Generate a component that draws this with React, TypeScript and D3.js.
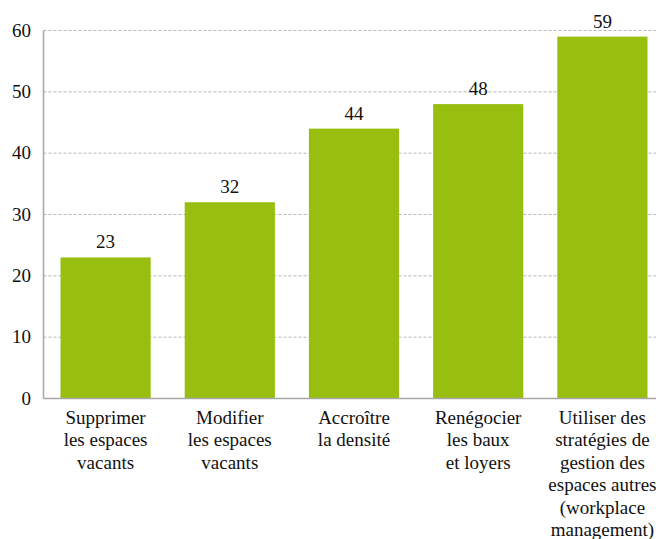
import React, { useEffect, useRef } from "react";
import * as d3 from "d3";

const categories: string[][] = [
  ["Supprimer", "les espaces", "vacants"],
  ["Modifier", "les espaces", "vacants"],
  ["Accroître", "la densité"],
  ["Renégocier", "les baux", "et loyers"],
  ["Utiliser des", "stratégies de", "gestion des", "espaces autres", "(workplace", "management)"],
];
const values: number[] = [23, 32, 44, 48, 59];
const yTicks: number[] = [0, 10, 20, 30, 40, 50, 60];

const W = 656;
const H = 539;
const left = 43.5;
const top = 30.5;
const bottom = 398.5;
const FONT = "Liberation Serif";

export default function App() {
  const ref = useRef<SVGSVGElement>(null);
  const x = d3
    .scaleBand<number>()
    .domain(values.map((_, i) => i))
    .range([left, left + 5 * 124.2])
    .paddingInner(34 / 124.2)
    .paddingOuter(17 / 124.2);
  const y = d3.scaleLinear().domain([0, 60]).range([bottom, top]);

  useEffect(() => {
    if (!ref.current) return;
    d3.select(ref.current)
      .selectAll("text")
      .style("font-family", FONT, "important")
      .style("font-size", "19px", "important");
  });

  return (
    <div style={{ position: "absolute", left: 0, top: 0, width: W, height: H, overflow: "hidden" }}>
      <svg id="chart" ref={ref} width={W} height={H} style={{ display: "block" }}>
        <style>{`#chart text.lbl, svg#chart g text.lbl { font-family: "Liberation Serif", "Times New Roman", Times, serif !important; font-size: 19px !important; fill: #111; }`}</style>
        {yTicks.map((t) =>
          t > 0 ? (
            <line
              key={"g" + t}
              x1={left}
              x2={W}
              y1={y(t)}
              y2={y(t)}
              stroke="#b5b5b5"
              strokeWidth={1}
              strokeDasharray="3,2"
            />
          ) : null
        )}
        <g>
          {yTicks.map((t) => (
            <text key={"t" + t} className="lbl" x={31} y={y(t) + 6} textAnchor="end" fontFamily={FONT}>
              {t}
            </text>
          ))}
        </g>
        {values.map((v, i) => (
          <rect
            key={"r" + i}
            x={x(i)}
            y={y(v)}
            width={x.bandwidth()}
            height={bottom - y(v)}
            fill="#98bf10"
          />
        ))}
        <g>
          {values.map((v, i) => (
            <text
              key={"v" + i}
              className="lbl"
              x={(x(i) as number) + x.bandwidth() / 2}
              y={y(v) - 9}
              textAnchor="middle"
              fontFamily={FONT}
            >
              {v}
            </text>
          ))}
        </g>
        <g>
          {categories.map((lines, i) =>
            lines.map((line, j) => (
              <text
                key={"c" + i + "-" + j}
                className="lbl"
                x={(x(i) as number) + x.bandwidth() / 2}
                y={424 + j * 22.4}
                textAnchor="middle"
                fontFamily={FONT}
              >
                {line}
              </text>
            ))
          )}
        </g>
        <line x1={left} x2={left} y1={top} y2={bottom} stroke="#a8a8a8" strokeWidth={1.5} />
        <line x1={left} x2={W} y1={bottom} y2={bottom} stroke="#a8a8a8" strokeWidth={1.5} />
      </svg>
    </div>
  );
}
